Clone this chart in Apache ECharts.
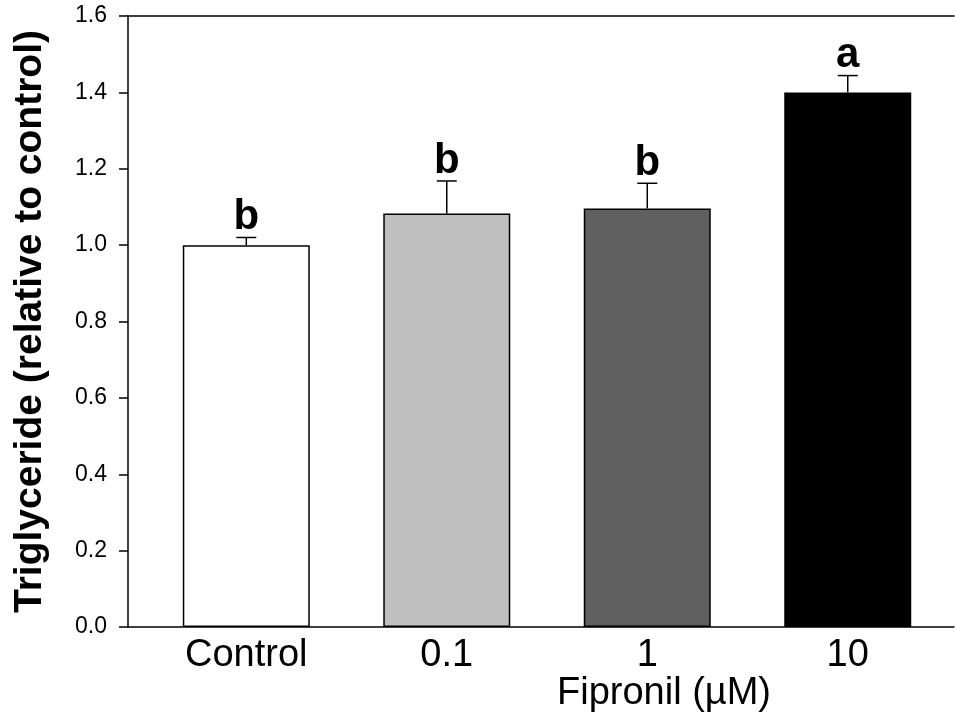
<!DOCTYPE html>
<html>
<head>
<meta charset="utf-8">
<script src="https://cdn.jsdelivr.net/npm/echarts@6/dist/echarts.min.js"></script>
<style>
  html, body { margin: 0; padding: 0; background: #fff; }
  #chart { width: 955px; height: 723px; }
</style>
</head>
<body>
<div id="chart"></div>
<script>
// data
const groups = ['Control', '0.1', '1', '10'];
const groupPos = [1, 2, 3, 4];
const means = [1.0, 1.083, 1.096, 1.400];
const errors = [0.020, 0.085, 0.066, 0.044];
const letters = ['b', 'b', 'b', 'a'];
const barColors = ['#ffffff', '#c0c0c0', '#606060', '#000000'];

const FONT = '"Liberation Sans", Arial, sans-serif';

const chart = echarts.init(document.getElementById('chart'));

const barData = groupPos.map((x, i) => ({
  value: [x, means[i]],
  itemStyle: { color: barColors[i] }
}));
const errData = groupPos.map((x, i) => [x, means[i], means[i] + errors[i], i]);

const option = {
  animation: false,
  backgroundColor: '#fff',
  grid: { left: 128, right: 1, top: 16, bottom: 96 },
  xAxis: [{
    type: 'value',
    min: 0.41,
    max: 4.53,
    splitLine: { show: false },
    axisLine: { lineStyle: { color: '#000', width: 1.5 } },
    axisTick: { show: false },
    axisLabel: {
      customValues: groupPos,
      formatter: v => groups[Math.round(v) - 1] || '',
      color: '#000',
      fontFamily: FONT,
      fontSize: 38,
      margin: 10
    }
  }, {
    type: 'value',
    position: 'top',
    min: 0.41,
    max: 4.53,
    splitLine: { show: false },
    axisLine: { show: true, lineStyle: { color: '#000', width: 1.5 } },
    axisTick: { show: false },
    axisLabel: { show: false }
  }],
  yAxis: {
    type: 'value',
    min: 0,
    max: 1.6,
    interval: 0.2,
    name: 'Triglyceride (relative to control)',
    nameLocation: 'middle',
    nameGap: 78,
    nameTextStyle: { color: '#000', fontFamily: FONT, fontSize: 39, fontWeight: 'bold' },
    splitLine: { show: false },
    axisLine: { show: true, lineStyle: { color: '#000', width: 1.5 } },
    axisTick: { show: true, length: 9, lineStyle: { color: '#000', width: 1.5 } },
    axisLabel: {
      color: '#000',
      fontFamily: FONT,
      fontSize: 23,
      margin: 21,
      formatter: v => v.toFixed(1)
    }
  },
  graphic: [{
    type: 'text',
    left: 557,
    top: 675,
    style: { text: 'Fipronil (µM)', fill: '#000', font: '38px ' + FONT }
  }],
  series: [{
    type: 'bar',
    xAxisIndex: 0,
    barWidth: 127,
    data: barData,
    itemStyle: { borderColor: '#000', borderWidth: 1.5 }
  }, {
    type: 'custom',
    xAxisIndex: 0,
    data: errData,
    z: 5,
    renderItem: function (params, api) {
      const x = api.value(0);
      const base = api.coord([x, api.value(1)]);
      const top = api.coord([x, api.value(2)]);
      const idx = api.value(3);
      const cap = 10;
      return {
        type: 'group',
        children: [{
          type: 'line',
          shape: { x1: base[0], y1: base[1], x2: top[0], y2: top[1] },
          style: { stroke: '#000', lineWidth: 1.5 }
        }, {
          type: 'line',
          shape: { x1: top[0] - cap, y1: top[1], x2: top[0] + cap, y2: top[1] },
          style: { stroke: '#000', lineWidth: 1.5 }
        }, {
          type: 'text',
          style: {
            text: letters[idx],
            x: top[0],
            y: top[1] + 1,
            align: 'center',
            verticalAlign: 'bottom',
            fill: '#000',
            font: 'bold 42px ' + FONT
          }
        }]
      };
    }
  }]
};

chart.setOption(option);
</script>
</body>
</html>
